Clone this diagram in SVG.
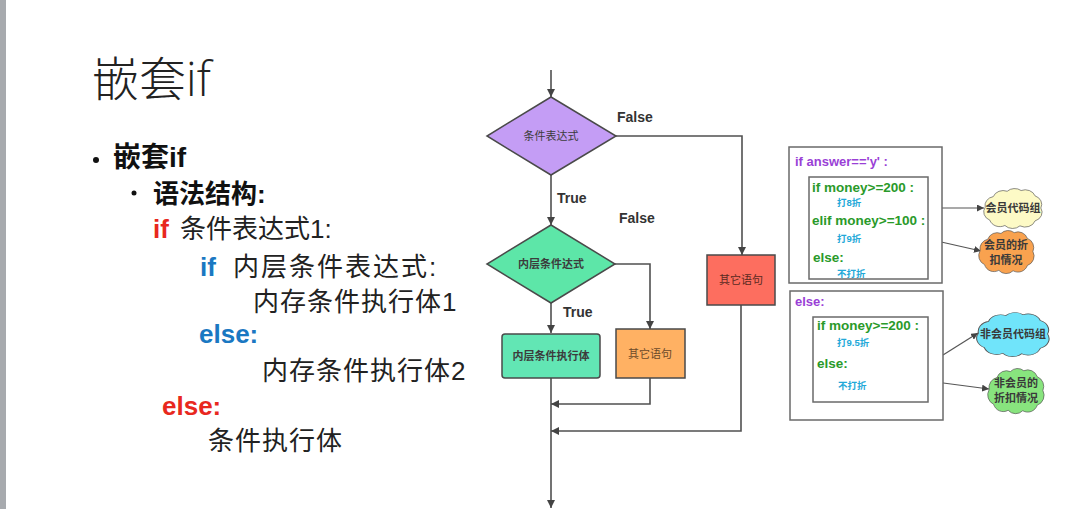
<svg xmlns="http://www.w3.org/2000/svg" width="1087" height="509" viewBox="0 0 1087 509">
<style>
.cjk{font-family:"Liberation Sans","Noto Sans CJK SC",sans-serif}
.title{font-family:"Open Sans","Noto Sans CJK SC",sans-serif;font-size:47px;font-weight:300;fill:#222}
.body{font-family:"Liberation Sans","Noto Sans CJK SC",sans-serif;font-size:26px;fill:#222}
.kw{font-family:"Liberation Sans","Noto Sans CJK SC",sans-serif;font-size:26px;font-weight:bold}
.ln{fill:none;stroke:#505050;stroke-width:1.6}
.ln2{fill:none;stroke:#555;stroke-width:1.2}
.shape{stroke:#4a4a4a;stroke-width:1.5}
.lbl{font-family:"Liberation Sans","Noto Sans CJK SC",sans-serif;font-size:14px;font-weight:bold;fill:#333}
.nt{font-family:"Liberation Sans","Noto Sans CJK SC",sans-serif;font-size:11px;fill:#3c3c3c;text-anchor:middle}
.box{fill:#fff;stroke:#6a6a6a;stroke-width:1.5}
.code{font-family:"Liberation Sans","Noto Sans CJK SC",sans-serif;font-size:13.5px;font-weight:bold;fill:#2a9a2a}
.pur{font-family:"Liberation Sans","Noto Sans CJK SC",sans-serif;font-size:13px;font-weight:bold;fill:#9a3fd6}
.dis{font-family:"Liberation Sans","Noto Sans CJK SC",sans-serif;font-size:9.5px;font-weight:bold;fill:#22a8d8}
.cloud{stroke:#555;stroke-width:1.4}
.ct{font-family:"Liberation Sans","Noto Sans CJK SC",sans-serif;font-size:11px;font-weight:bold;fill:#3a3a3a;text-anchor:middle}
</style>
<defs>
<marker id="ah" viewBox="0 0 10 10" refX="10" refY="5" markerWidth="8" markerHeight="8" markerUnits="userSpaceOnUse" orient="auto">
<path d="M0,0 L10,5 L0,10 Z" fill="#444"/>
</marker>
<marker id="ahs" viewBox="0 0 10 10" refX="10" refY="5" markerWidth="7" markerHeight="7" markerUnits="userSpaceOnUse" orient="auto">
<path d="M0,0 L10,5 L0,10 Z" fill="#444"/>
</marker>
<path id="cl" d="M16 20 A18 24 0 0 1 40 6 A18 24 0 0 1 64 4 A18 24 0 0 1 88 18 A18 24 0 0 1 98 50 A18 24 0 0 1 88 84 A18 24 0 0 1 62 97 A18 24 0 0 1 36 96 A18 24 0 0 1 10 82 A18 24 0 0 1 2 48 A18 24 0 0 1 16 20 Z"/>
</defs>
<rect width="1087" height="509" fill="#fff"/>
<rect x="0" y="0" width="6" height="509" fill="#a7aaae"/>

<g id="slide-text">
<text x="92" y="96" class="title">嵌套if</text>
<circle cx="96" cy="160" r="3" fill="#111"/>
<text x="113" y="167" class="cjk" font-size="28" font-weight="bold" fill="#111">嵌套if</text>
<circle cx="134" cy="193" r="2.5" fill="#111"/>
<text x="153" y="203" class="cjk" font-size="26" font-weight="bold" fill="#111">语法结构:</text>
<text x="153" y="238" class="kw" fill="#e8281e">if</text>
<text x="180" y="238" class="body">条件表达式1:</text>
<text x="200" y="276" class="kw" fill="#1a78c2">if</text>
<text x="233" y="276" class="body" letter-spacing="2">内层条件表达式:</text>
<text x="253" y="311" class="body" letter-spacing="1">内存条件执行体1</text>
<text x="199" y="343" class="kw" fill="#1a78c2">else:</text>
<text x="262" y="380" class="body" letter-spacing="1">内存条件执行体2</text>
<text x="162" y="415" class="kw" fill="#e8281e">else:</text>
<text x="208" y="450" class="body" letter-spacing="1">条件执行体</text>
</g>

<g id="connectors">
<path class="ln" d="M551 70 L551 97" marker-end="url(#ah)"/>
<path class="ln" d="M616 136 L742 136 L742 255" marker-end="url(#ah)"/>
<path class="ln" d="M551 175 L551 225" marker-end="url(#ah)"/>
<path class="ln" d="M615 264 L650 264 L650 329" marker-end="url(#ah)"/>
<path class="ln" d="M551 303 L551 333" marker-end="url(#ah)"/>
<path class="ln" d="M551 378 L551 508" marker-end="url(#ah)"/>
<path class="ln" d="M650 378 L650 404 L551 404" marker-end="url(#ah)"/>
<path class="ln" d="M741 305 L741 431 L551 431" marker-end="url(#ah)"/>
<path class="ln2" d="M942 208 L984 208" marker-end="url(#ahs)"/>
<path class="ln2" d="M928 239 L981 251" marker-end="url(#ahs)"/>
<path class="ln2" d="M943 355 L978 333" marker-end="url(#ahs)"/>
<path class="ln2" d="M928 381 L989 389" marker-end="url(#ahs)"/>
<text x="617" y="122" class="lbl">False</text>
<text x="557" y="203" class="lbl">True</text>
<text x="619" y="223" class="lbl">False</text>
<text x="563" y="317" class="lbl">True</text>
</g>

<g id="cond1">
<path class="shape" d="M551 97 L616 136 L551 175 L487 136 Z" fill="#c49df5"/>
<text x="551" y="140" class="nt">条件表达式</text>
</g>
<g id="cond2">
<path class="shape" d="M551 225 L615 264 L551 303 L487 264 Z" fill="#5de6a8"/>
<text x="551" y="268" class="nt" style="font-weight:bold">内层条件达式</text>
</g>
<g id="inner-body">
<rect class="shape" x="502" y="334" width="98" height="44" rx="3" fill="#62e6b4"/>
<text x="551" y="360" class="nt" style="font-weight:bold">内层条件执行体</text>
</g>
<g id="other-inner">
<rect class="shape" x="616" y="329" width="69" height="49" fill="#ffb163"/>
<text x="650" y="358" class="nt" style="fill:#6b4a2a">其它语句</text>
</g>
<g id="other-outer">
<rect class="shape" x="707" y="255" width="68" height="50" fill="#fd6e5f"/>
<text x="741" y="284" class="nt" style="fill:#5a2a22">其它语句</text>
</g>

<g id="code-member">
<rect class="box" x="789" y="147" width="153" height="136"/>
<text x="795" y="166" class="pur">if answer=='y' :</text>
<rect class="box" x="809" y="177" width="119" height="102"/>
<text x="812" y="192" class="code">if money&gt;=200 :</text>
<text x="837" y="206" class="dis">打8折</text>
<text x="812" y="225" class="code">elif money&gt;=100 :</text>
<text x="837" y="242" class="dis">打9折</text>
<text x="813" y="262" class="code">else:</text>
<text x="837" y="277" class="dis">不打折</text>
</g>
<g id="code-nonmember">
<rect class="box" x="790" y="291" width="153" height="129"/>
<text x="795" y="306" class="pur">else:</text>
<rect class="box" x="813" y="317" width="115" height="85"/>
<text x="817" y="330" class="code">if money&gt;=200 :</text>
<text x="837" y="346" class="dis">打9.5折</text>
<text x="817" y="368" class="code">else:</text>
<text x="838" y="389" class="dis">不打折</text>
</g>

<g id="cloud-member">
<use href="#cl" class="cloud" fill="#fdfac6" vector-effect="non-scaling-stroke" transform="translate(984 189) scale(0.58 0.38)"/>
<text x="1013" y="212" class="ct">会员代码组</text>
</g>
<g id="cloud-member-discount">
<use href="#cl" class="cloud" fill="#f9a24f" vector-effect="non-scaling-stroke" transform="translate(979 231) scale(0.55 0.41)"/>
<text x="1006" y="249" class="ct">会员的折</text>
<text x="1006" y="264" class="ct">扣情况</text>
</g>
<g id="cloud-nonmember">
<use href="#cl" class="cloud" fill="#70e4fa" vector-effect="non-scaling-stroke" transform="translate(977 313) scale(0.72 0.42)"/>
<text x="1013" y="338" class="ct">非会员代码组</text>
</g>
<g id="cloud-nonmember-discount">
<use href="#cl" class="cloud" fill="#88e47e" vector-effect="non-scaling-stroke" transform="translate(988 369) scale(0.56 0.43)"/>
<text x="1016" y="387" class="ct">非会员的</text>
<text x="1016" y="402" class="ct">折扣情况</text>
</g>
</svg>
